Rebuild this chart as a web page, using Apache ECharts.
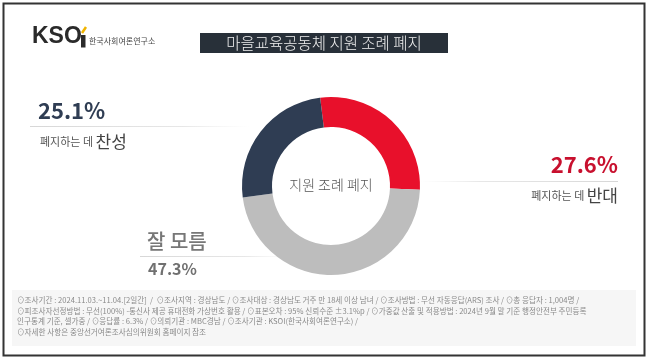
<!DOCTYPE html>
<html><head><meta charset="utf-8">
<script src="https://cdn.jsdelivr.net/npm/echarts@6/dist/echarts.min.js"></script>
<style>html,body{margin:0;padding:0;background:#fff}#c{width:651px;height:361px}</style>
</head><body><div id="c"></div>
<script>
const titleText = '마을교육공동체 지원 조례 폐지';
const centerText = '지원 조례 폐지';
const categories = ['반대', '잘 모름', '찬성'];
const values = [27.6, 47.3, 25.1];
const sliceColors = ['#e8102b', '#bdbdbd', '#2f3d53'];
const footerLines = [
  '⊙조사기간 : 2024.11.03.~11.04.[2일간]  /  ⊙조사지역 : 경상남도 / ⊙조사대상 : 경상남도 거주 만 18세 이상 남녀 / ⊙조사방법 : 무선 자동응답(ARS) 조사 / ⊙총 응답자 : 1,004명 /',
  '⊙피조사자선정방법 : 무선(100%) -통신사 제공 휴대전화 가상번호 활용 / ⊙표본오차 : 95% 신뢰수준 ±3.1%p / ⊙가중값 산출 및 적용방법 : 2024년 9월 말 기준 행정안전부 주민등록',
  '인구통계 기준, 셀가중 / ⊙응답률 : 6.3% / ⊙의뢰기관 : MBC경남 / ⊙조사기관 : KSOI(한국사회여론연구소) /',
  '⊙자세한 사항은 중앙선거여론조사심의위원회 홈페이지 참조'
];

const F = '"Noto Sans CJK KR", "Noto Sans", sans-serif';
const pct = v => v.toFixed(1) + '%';
const chart = echarts.init(document.getElementById('c'), null, {renderer: 'canvas'});

function fadeLine(x, y, w, dir) {
  return {
    type: 'rect', shape: {x: x, y: y, width: w, height: 1}, silent: true,
    style: {fill: new echarts.graphic.LinearGradient(dir === 'right' ? 1 : 0, 0, dir === 'right' ? 0 : 1, 0, [
      {offset: 0, color: 'rgba(215,215,215,1)'},
      {offset: 0.7, color: 'rgba(225,225,225,0.8)'},
      {offset: 1, color: 'rgba(235,235,235,0)'}
    ])}
  };
}

const graphics = [
  {type: 'rect', shape: {x: 3.5, y: 3.5, width: 641, height: 352}, style: {fill: 'none', stroke: '#333', lineWidth: 2}, silent: true},
  {type: 'rect', shape: {x: 12, y: 290, width: 624, height: 56}, style: {fill: '#f6f6f6'}, silent: true},
  // logo
  {type: 'text', x: 32, y: 48, style: {text: 'KSO', font: 'bold 23px "Liberation Sans", sans-serif', fill: '#2a2a2a', textVerticalAlign: 'bottom'}},
  {type: 'rect', shape: {x: 81, y: 35, width: 4.5, height: 12.5}, style: {fill: '#2a2a2a'}},
  {type: 'line', shape: {x1: 82, y1: 33, x2: 86, y2: 27}, style: {stroke: '#f0b400', lineWidth: 2.5}},
  {type: 'text', x: 89, y: 41, style: {text: '한국사회여론연구소', font: '8px ' + F, fill: '#444', textVerticalAlign: 'middle'}},
  // title box
  {type: 'rect', shape: {x: 200, y: 33, width: 248, height: 20}, style: {fill: '#283039'}},
  {type: 'text', x: 324, y: 43.5, style: {text: titleText, font: '300 15.5px ' + F, fill: '#f0f0f0', textAlign: 'center', textVerticalAlign: 'middle'}},
  // 찬성
  fadeLine(30, 126, 220, 'left'),
  {type: 'text', x: 38, y: 111, style: {text: pct(values[2]), font: 'bold 22px ' + F, fill: '#2f3d53', textVerticalAlign: 'middle'}},
  {type: 'text', x: 40, y: 142, style: {text: '{a|폐지하는 데 }{b|' + categories[2] + '}', textVerticalAlign: 'middle',
    rich: {a: {font: '11px ' + F, fill: '#555'}, b: {font: '17px ' + F, fill: '#444'}}}},
  // 반대
  fadeLine(420, 181, 198, 'right'),
  {type: 'text', x: 618, y: 165, style: {text: pct(values[0]), font: 'bold 22px ' + F, fill: '#c8102e', textAlign: 'right', textVerticalAlign: 'middle'}},
  {type: 'text', x: 618, y: 196, style: {text: '{a|폐지하는 데 }{b|' + categories[0] + '}', textAlign: 'right', textVerticalAlign: 'middle',
    rich: {a: {font: '11px ' + F, fill: '#555'}, b: {font: '17px ' + F, fill: '#444'}}}},
  // 잘 모름
  fadeLine(140, 256, 150, 'left'),
  {type: 'text', x: 147, y: 241, style: {text: categories[1], font: '500 20px ' + F, fill: '#777', textVerticalAlign: 'middle'}},
  {type: 'text', x: 148, y: 269, style: {text: pct(values[1]), font: 'bold 16px ' + F, fill: '#707070', textVerticalAlign: 'middle'}},
  // center
  {type: 'text', x: 331, y: 185, style: {text: centerText, font: '300 14px ' + F, fill: '#555', textAlign: 'center', textVerticalAlign: 'middle'}, z: 100}
];
footerLines.forEach((t, i) => {
  graphics.push({type: 'text', x: 17, y: 300 + i * 10.8, style: {text: t, font: '7.6px ' + F, fill: '#8a8a8a', textVerticalAlign: 'middle'}});
});

chart.setOption({
  animation: false,
  backgroundColor: '#ffffff',
  graphic: {elements: graphics},
  series: [{
    type: 'pie', center: [331, 186], radius: [59, 89], startAngle: 97, clockwise: true,
    silent: true, label: {show: false}, labelLine: {show: false},
    data: categories.map((c, i) => ({name: c, value: values[i], itemStyle: {color: sliceColors[i]}}))
  }]
});
</script></body></html>
